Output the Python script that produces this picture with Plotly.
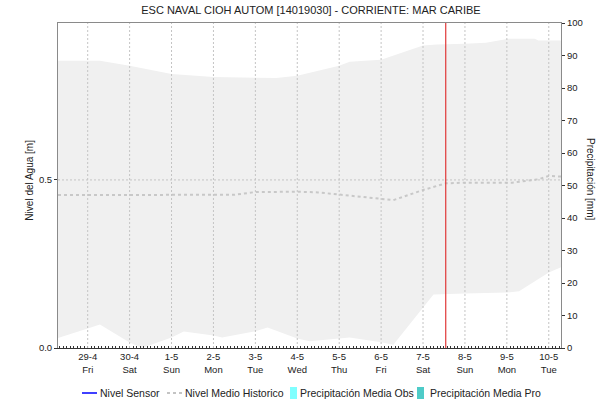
import plotly.graph_objects as go

TITLE = "ESC NAVAL CIOH AUTOM [14019030] - CORRIENTE: MAR CARIBE"

# Historic band (min / max) on water level axis [m]
upper_t = ["2022-04-28 07:00", "2022-04-29 07:00", "2022-04-30 00:00", "2022-05-01 00:00",
           "2022-05-02 00:00", "2022-05-02 21:00", "2022-05-03 12:00", "2022-05-04 00:00",
           "2022-05-05 00:00", "2022-05-05 06:00", "2022-05-06 00:00", "2022-05-07 00:00",
           "2022-05-07 08:00", "2022-05-08 00:00", "2022-05-08 12:00", "2022-05-09 01:00",
           "2022-05-09 16:00", "2022-05-09 18:00", "2022-05-10 07:00"]
upper_v = [0.855, 0.855, 0.840, 0.815, 0.806, 0.803, 0.803, 0.810, 0.840, 0.852, 0.858,
           0.900, 0.903, 0.905, 0.908, 0.920, 0.920, 0.915, 0.915]

lower_t = ["2022-04-28 07:00", "2022-04-29 00:00", "2022-04-29 07:00", "2022-04-30 00:00",
           "2022-04-30 07:00", "2022-05-01 00:00", "2022-05-01 07:00", "2022-05-02 00:00",
           "2022-05-02 05:00", "2022-05-03 00:00", "2022-05-03 07:00", "2022-05-04 00:00",
           "2022-05-04 07:00", "2022-05-04 19:00", "2022-05-05 06:00", "2022-05-06 00:00",
           "2022-05-06 07:00", "2022-05-07 06:00", "2022-05-08 00:00", "2022-05-09 00:00",
           "2022-05-09 07:00", "2022-05-10 00:00", "2022-05-10 07:00"]
lower_v = [0.030, 0.058, 0.070, 0.016, 0.000, 0.031, 0.049, 0.037, 0.031, 0.050, 0.061,
           0.028, 0.020, 0.025, 0.031, 0.017, 0.010, 0.159, 0.162, 0.165, 0.169, 0.225, 0.240]

# Historic mean level [m]
mean_t = ["2022-04-28 07:00", "2022-05-02 12:00", "2022-05-03 00:00", "2022-05-04 00:00",
          "2022-05-04 12:00", "2022-05-05 00:00", "2022-05-06 00:00", "2022-05-06 07:00",
          "2022-05-07 00:00", "2022-05-07 13:00", "2022-05-08 00:00", "2022-05-09 03:00",
          "2022-05-09 18:00", "2022-05-10 00:00", "2022-05-10 07:00"]
mean_v = [0.455, 0.456, 0.464, 0.465, 0.463, 0.457, 0.445, 0.440, 0.470, 0.490, 0.492,
          0.492, 0.502, 0.512, 0.510]

# Sensor level and precipitation: no data in the window
sensor_t, sensor_v = [None], [None]
prec_obs_t, prec_obs_v = [None], [None]
prec_pro_t, prec_pro_v = [None], [None]

tick_days = ["2022-04-29", "2022-04-30", "2022-05-01", "2022-05-02", "2022-05-03", "2022-05-04",
             "2022-05-05", "2022-05-06", "2022-05-07", "2022-05-08", "2022-05-09", "2022-05-10"]
tick_text = ["29-4<br>Fri", "30-4<br>Sat", "1-5<br>Sun", "2-5<br>Mon", "3-5<br>Tue", "4-5<br>Wed",
             "5-5<br>Thu", "6-5<br>Fri", "7-5<br>Sat", "8-5<br>Sun", "9-5<br>Mon", "10-5<br>Tue"]
now_t = "2022-05-07 13:00"
x_range = ["2022-04-28 07:00", "2022-05-10 07:00"]

legend_names = ["Nivel Sensor", "Nivel Medio Historico",
                "Precipitación Media Obs", "Precipitación Media Pro"]
legend_colors = ["#0000ff", "#c4c4c4", "#80ffff", "#4ecbc8"]

FONT = "Liberation Sans, Arial, sans-serif"
GRID = "#c4c4c4"
FRAME = "#8a8a8a"
W, H = 598, 402
ML, MR, MT, MB = 58, 37, 23, 54
PW, PH = W - ML - MR, H - MT - MB


def px2paper(x, y):
    return (x - ML) / PW, (H - MB - y) / PH


fig = go.Figure()

fig.add_trace(go.Scatter(
    x=upper_t + lower_t[::-1], y=upper_v + lower_v[::-1],
    fill="toself", fillcolor="#f0f0f0", line=dict(width=0), mode="lines",
    showlegend=False, hoverinfo="skip"))

fig.add_trace(go.Scatter(x=sensor_t, y=sensor_v, mode="lines", name=legend_names[0],
                         line=dict(color=legend_colors[0], width=1.5), showlegend=False))
fig.add_trace(go.Scatter(x=mean_t, y=mean_v, mode="lines", name=legend_names[1],
                         line=dict(color="#c8c8c8", width=2, dash="3px,3px"), showlegend=False))
fig.add_trace(go.Bar(x=prec_obs_t, y=prec_obs_v, name=legend_names[2],
                     marker_color=legend_colors[2], yaxis="y2", showlegend=False))
fig.add_trace(go.Bar(x=prec_pro_t, y=prec_pro_v, name=legend_names[3],
                     marker_color=legend_colors[3], yaxis="y2", showlegend=False))

shapes = []
for d in tick_days:
    shapes.append(dict(type="line", xref="x", yref="paper", x0=d, x1=d, y0=0, y1=1,
                       line=dict(color=GRID, width=1, dash="2px,2px"), layer="above"))
shapes.append(dict(type="line", xref="paper", yref="y", x0=0, x1=1, y0=0.5, y1=0.5,
                   line=dict(color=GRID, width=1, dash="2px,2px"), layer="above"))
shapes.append(dict(type="line", xref="x", yref="paper", x0=now_t, x1=now_t, y0=0, y1=1,
                   line=dict(color="#e03838", width=1.2), layer="above"))

# manual legend (symbols + texts)
LY = 393
annotations = []
leg_items = [  # (kind, symbol x0, symbol x1, text x)
    ("line", 82, 97, 98),
    ("dot", 167, 182, 183),
    ("box", 290, 297, 298),
    ("box", 417, 424, 428),
]
for (kind, sx0, sx1, tx), name, col in zip(leg_items, legend_names, legend_colors):
    if kind == "line":
        a, b = px2paper(sx0, LY)
        c, _ = px2paper(sx1, LY)
        shapes.append(dict(type="line", xref="paper", yref="paper", x0=a, x1=c, y0=b, y1=b,
                           line=dict(color=col, width=1.5)))
    elif kind == "dot":
        a, b = px2paper(sx0, LY)
        c, _ = px2paper(sx1, LY)
        shapes.append(dict(type="line", xref="paper", yref="paper", x0=a, x1=c, y0=b, y1=b,
                           line=dict(color=col, width=2, dash="3px,3px")))
    else:
        a, b0 = px2paper(sx0, LY + 6)
        c, b1 = px2paper(sx1, LY - 6)
        shapes.append(dict(type="rect", xref="paper", yref="paper", x0=a, x1=c, y0=b0, y1=b1,
                           line=dict(width=0), fillcolor=col))
    tx_p, ty_p = px2paper(tx, LY)
    annotations.append(dict(text=name, xref="paper", yref="paper", x=tx_p, y=ty_p,
                            xanchor="left", yanchor="middle", showarrow=False,
                            font=dict(size=10.5, color="#222")))

annotations += [
    dict(text="Nivel del Agua [m]", textangle=-90, xref="paper", yref="paper",
         x=px2paper(30, 0)[0], y=0.515, xanchor="center", yanchor="middle", showarrow=False,
         font=dict(size=10, color="#222")),
    dict(text="Precipitación [mm]", textangle=90, xref="paper", yref="paper",
         x=px2paper(591, 0)[0], y=0.52, xanchor="center", yanchor="middle", showarrow=False,
         font=dict(size=10, color="#222")),
]

fig.update_layout(
    width=W, height=H,
    margin=dict(l=ML, r=MR, t=MT, b=MB, autoexpand=False),
    paper_bgcolor="white", plot_bgcolor="white",
    font=dict(family=FONT, size=10, color="#222"),
    title=dict(text=TITLE, x=0.52, xanchor="center", y=0.985, yanchor="top",
               font=dict(size=11, color="#222")),
    showlegend=False,
    shapes=shapes,
    annotations=annotations,
    xaxis=dict(type="date", range=x_range, tickvals=tick_days, ticktext=tick_text,
               showgrid=False, zeroline=False, showline=True, linecolor="#333",
               linewidth=1, ticks="inside", ticklen=2, tickcolor="#333",
               tickfont=dict(size=9.5), automargin=False,
               minor=dict(ticks="inside", dtick=7200000, ticklen=2, tickcolor="#333",
                          showgrid=False)),
    yaxis=dict(range=[0, 0.967], tickvals=[0, 0.5], ticktext=["0.0", "0.5"],
               showgrid=False, zeroline=False, showline=True, linecolor=FRAME,
               ticks="outside", ticklen=3, tickcolor="#333", tickfont=dict(size=9.5),
               automargin=False),
    yaxis2=dict(overlaying="y", side="right", range=[0, 100], dtick=10,
                showgrid=False, zeroline=False, showline=True, linecolor=FRAME,
                ticks="outside", ticklen=3, tickcolor="#333", tickfont=dict(size=9.5),
                automargin=False),
    xaxis2=dict(overlaying="x", side="top", showline=True, linecolor=FRAME,
                showticklabels=False, ticks="", showgrid=False, zeroline=False,
                range=[0, 1], automargin=False),
)

fig.add_trace(go.Scatter(x=[None], y=[None], xaxis="x2", showlegend=False, hoverinfo="skip"))

fig.write_html("out.html", config={"displayModeBar": False},
               post_script="document.body.style.margin='0';")
